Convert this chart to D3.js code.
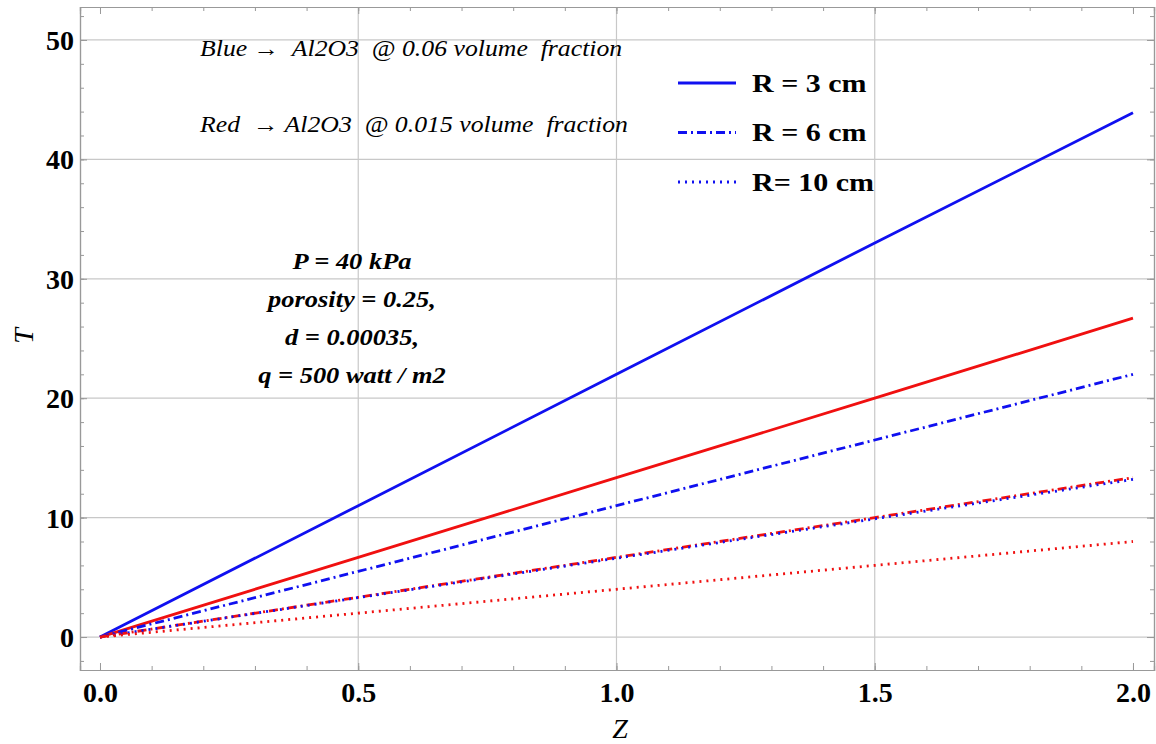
<!DOCTYPE html>
<html>
<head>
<meta charset="utf-8">
<script src="https://cdn.jsdelivr.net/npm/d3@7"></script>
<style>
  body { margin: 0; background: #fff; }
  svg { display: block; }
  text { font-family: "Liberation Serif", "Times New Roman", serif; }
</style>
</head>
<body>
<div id="chart"></div>
<script>
// data
var zValues = [0, 0.5, 1.0, 1.5, 2.0];
var blueR3  = [0, 11.0, 22.0, 33.0, 43.9];
var redR3   = [0, 6.67, 13.35, 20.0, 26.7];
var blueR6  = [0, 5.5, 11.0, 16.5, 22.0];
var redR6   = [0, 3.33, 6.67, 10.0, 13.35];
var blueR10 = [0, 3.3, 6.6, 9.9, 13.2];
var redR10  = [0, 2.0, 4.0, 6.0, 8.0];
var xTicks = [0, 0.5, 1.0, 1.5, 2.0];
var yTicks = [0, 10, 20, 30, 40, 50];
var legendLabels = ["R = 3 cm", "R = 6 cm", "R= 10 cm"];

var W = 1156, H = 744;
var m = {left: 80, right: 1154, top: 7, bottom: 670};

var svg = d3.select("#chart").append("svg")
  .attr("width", W).attr("height", H);

var x = d3.scaleLinear().domain([-0.0387, 2.0407]).range([m.left, m.right]);
var y = d3.scaleLinear().domain([-2.76, 52.76]).range([m.bottom, m.top]);

// grid lines
svg.append("g").selectAll("line").data(yTicks).join("line")
  .attr("x1", m.left).attr("x2", m.right)
  .attr("y1", d => y(d)).attr("y2", d => y(d))
  .attr("stroke", "#c8c8c8").attr("stroke-width", 1.2);
svg.append("g").selectAll("line").data([0.5, 1.0, 1.5]).join("line")
  .attr("y1", m.top).attr("y2", m.bottom)
  .attr("x1", d => x(d)).attr("x2", d => x(d))
  .attr("stroke", "#c8c8c8").attr("stroke-width", 1.2);

// frame with ticks on all four sides (ticks point inward)
var minorX = d3.range(0, 2.01, 0.1);
var minorY = d3.range(-2, 52.1, 2);

function frameAxis(axis, pos) {
  var g = svg.append("g").attr("transform", pos);
  g.call(axis);
  g.select(".domain").attr("stroke", "#999").attr("stroke-width", 1.2);
  g.selectAll(".tick line").attr("stroke", "#999");
  return g;
}
// minor ticks
frameAxis(d3.axisBottom(x).tickValues(minorX).tickSize(-4).tickFormat(""), "translate(0," + m.bottom + ")");
frameAxis(d3.axisTop(x).tickValues(minorX).tickSize(-4).tickFormat(""), "translate(0," + m.top + ")");
frameAxis(d3.axisLeft(y).tickValues(minorY).tickSize(-4).tickFormat(""), "translate(" + m.left + ",0)");
frameAxis(d3.axisRight(y).tickValues(minorY).tickSize(-4).tickFormat(""), "translate(" + m.right + ",0)");
// major ticks with labels
var xb = frameAxis(d3.axisBottom(x).tickValues(xTicks).tickSize(-7).tickPadding(12).tickFormat(d3.format(".1f")), "translate(0," + m.bottom + ")");
var yl = frameAxis(d3.axisLeft(y).tickValues(yTicks).tickSize(-7).tickPadding(6).tickFormat(d3.format("d")), "translate(" + m.left + ",0)");
frameAxis(d3.axisTop(x).tickValues(xTicks).tickSize(-7).tickFormat(""), "translate(0," + m.top + ")");
frameAxis(d3.axisRight(y).tickValues(yTicks).tickSize(-7).tickFormat(""), "translate(" + m.right + ",0)");
[xb, yl].forEach(g => g.selectAll(".tick text")
  .attr("fill", "#000")
  .style("font-family", "'Liberation Serif', 'Times New Roman', serif")
  .style("font-size", "28px")
  .style("font-weight", "bold"));
yl.selectAll(".tick text").attr("dy", "0.34em");

// axis titles
svg.append("text").attr("x", 620).attr("y", 738)
  .attr("text-anchor", "middle").style("font-style", "italic")
  .style("font-size", "28px").text("Z");
svg.append("text").attr("transform", "translate(33,336) rotate(-90)")
  .attr("text-anchor", "middle").style("font-style", "italic")
  .style("font-size", "28px").text("T");

// series
var series = [
  {vals: blueR3,  color: "#1010f0", dash: null},
  {vals: redR3,   color: "#f01010", dash: null},
  {vals: blueR6,  color: "#1010f0", dash: "9,4,2,4"},
  {vals: redR6,   color: "#f01010", dash: "9,4,2,4"},
  {vals: blueR10, color: "#1010f0", dash: "2,5"},
  {vals: redR10,  color: "#f01010", dash: "2,5"}
];
var line = d3.line().x((d, i) => x(zValues[i])).y(d => y(d));
svg.append("g").selectAll("path").data(series).join("path")
  .attr("d", d => line(d.vals))
  .attr("fill", "none")
  .attr("stroke", d => d.color)
  .attr("stroke-width", 2.8)
  .attr("stroke-dasharray", d => d.dash);

// notes (text in the original is a bit stretched sideways)
var notes = [
  {t: "Blue \u2192  Al2O3  @ 0.06 volume  fraction", x: 200, y: 56},
  {t: "Red  \u2192 Al2O3  @ 0.015 volume  fraction", x: 200, y: 132}
];
svg.append("g").selectAll("text").data(notes).join("text")
  .attr("transform", d => "translate(" + d.x + "," + d.y + ") scale(1.12,1)")
  .style("font-style", "italic").style("font-size", "23px")
  .style("white-space", "pre")
  .text(d => d.t);

var params = ["P = 40 kPa", "porosity = 0.25,", "d = 0.00035,", "q = 500 watt / m2"];
svg.append("g").selectAll("text").data(params).join("text")
  .attr("transform", (d, i) => "translate(352," + (269 + i * 38) + ") scale(1.15,1)")
  .attr("text-anchor", "middle")
  .style("font-style", "italic").style("font-weight", "bold")
  .style("font-size", "23px")
  .text(d => d);

// legend
var legendDash = [null, "9,4,2,4", "2,5"];
var lg = svg.append("g").selectAll("g").data(legendLabels).join("g")
  .attr("transform", (d, i) => "translate(678," + (83 + i * 49.5) + ")");
lg.append("line").attr("x1", 0).attr("x2", 58)
  .attr("stroke", "#1010f0").attr("stroke-width", 2.8)
  .attr("stroke-dasharray", (d, i) => legendDash[i]);
lg.append("text").attr("transform", "translate(74,0) scale(1.2,1)").attr("dy", "0.34em")
  .style("font-weight", "bold").style("font-size", "25px")
  .text(d => d);
</script>
</body>
</html>
